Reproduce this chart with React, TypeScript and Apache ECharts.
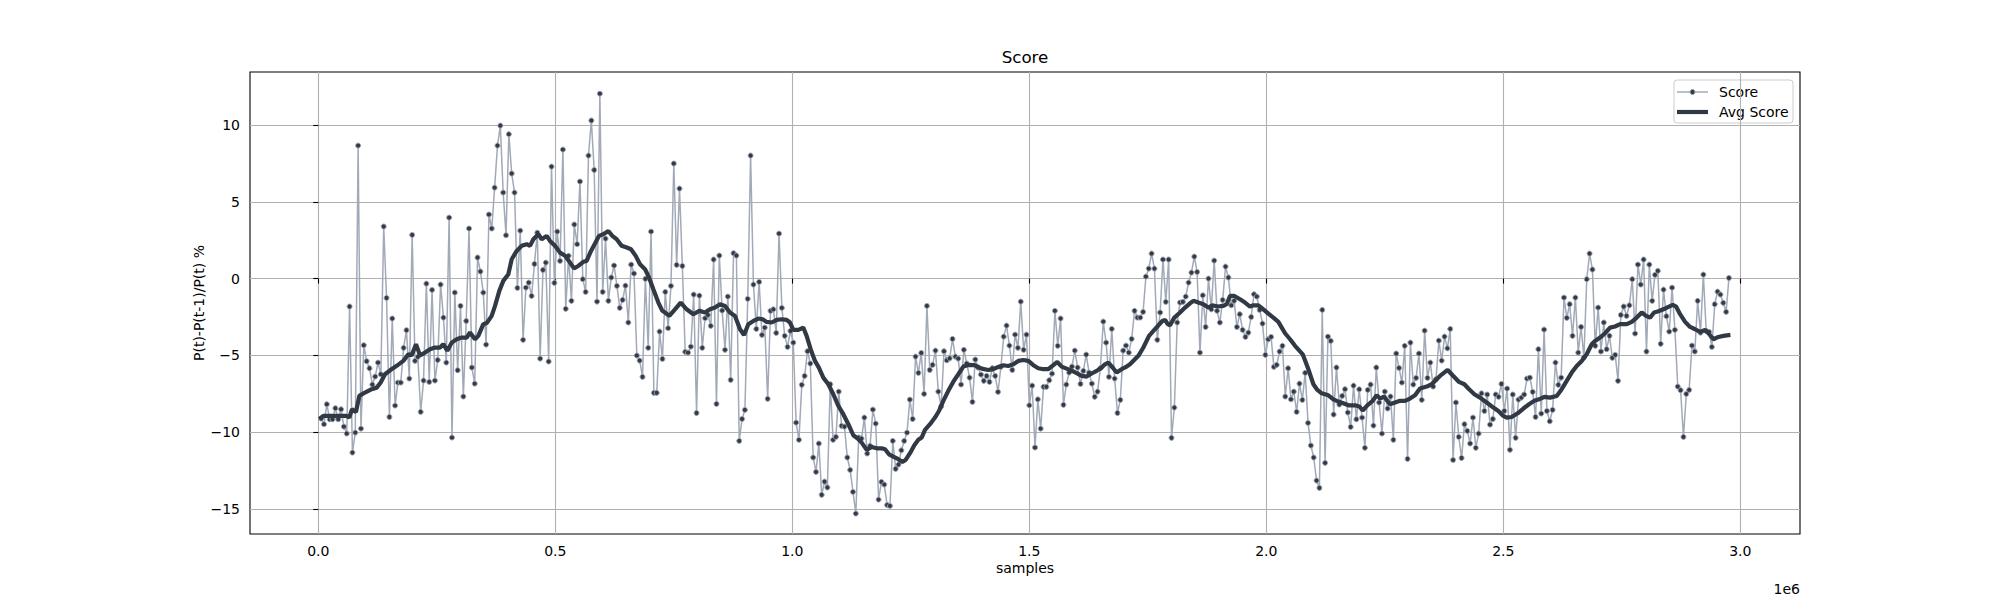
import React, { useEffect, useRef } from "react";
import * as echarts from "echarts";

// one score every SAMPLE_STEP samples, starting at SAMPLE_STEP
const SAMPLE_STEP = 6000;

const scoreValues: number[] = [
  -9.11, -9.48, -8.18, -9.16, -9.16, -8.44, -9.16, -8.51, -9.64, -10.09,
  -1.82, -11.33, -10.03, 8.66, -9.77, -4.34, -5.38, -5.84, -6.9, -6.38,
  -5.47, -6.23, 3.39, -1.26, -9.01, -2.6, -8.27, -6.77, -6.77, -4.51,
  -3.36, -6.51, 2.84, -5.36, -5.1, -8.68, -6.64, -0.33, -6.73, -0.74,
  -6.64, -5.3, -0.39, -2.54, -5.47, 3.97, -10.35, -0.91, -5.97, -1.78,
  -7.68, -2.76, 3.26, -5.79, -6.84, 1.37, 0.46, -0.91, -4.3, 4.17,
  3.26, 5.92, 8.66, 9.96, 5.6, 2.82, 9.4,
  6.84, 5.6, -0.61, 3.12, -3.99, -0.59, -0.26, -1.13, 0.95, 2.99,
  -5.21, 0.56, 1.04, -5.4, 7.29, -0.28, 3.06, 1.15, 8.4, -1.97,
  1.48, -1.45, 3.52, 2.24, 6.32, -0.04, -0.87, 8.01, 10.29, 7.07,
  -1.5, 12.04, -0.87, 2.6, -1.45, 0.07, 0.85, -0.48, -1.91, -1.39,
  -0.46, -2.86, 0.91, 0.33, -5.01, -5.34, -6.4, -0.02, -4.51, 3.06,
  -7.44, -7.44, -3.45, -5.23, -0.87,
  -3.23, -0.48, 7.49, 0.89, 5.86, 0.82, -4.77, -4.82, -4.43, -1.04,
  -8.75, -1.11, -4.51, -2.58, -2.37, -3.08, 1.24, -8.16, 1.5, -2.08,
  -4.64, -1.17, -6.6, 1.65, 1.5, -10.57, -9.14, -8.55, -1.32, 8.01,
  -0.39, -3.28, -0.22, -3.67, -3.19, -7.83, -2.1, -2.0, -3.54, 2.93,
  -1.91, -3.73, -4.45, -3.41, -4.17, -9.38, -10.5, -6.92, -6.34, -4.73,
  -5.53, -11.65, -12.59, -10.74, -14.08,
  -13.22, -13.6, -6.88, -10.5, -10.31, -7.36, -9.59, -9.64, -11.65, -12.46,
  -13.89, -15.3, -10.35, -10.42, -9.05, -11.39, -10.89, -8.53, -9.44, -14.39,
  -13.24, -13.41, -14.74, -14.8, -10.57, -12.39, -12.11, -11.18, -10.57, -10.03,
  -7.88, -9.14, -5.08, -6.14, -4.84, -7.51, -1.78, -5.95, -5.62, -4.69,
  -7.36, -8.33, -4.73, -5.32, -5.19, -3.93, -5.08, -5.21, -6.9, -4.64,
  -5.53, -6.45, -8.03, -5.27,
  -5.79, -6.25, -6.66, -6.34, -6.73, -5.84, -6.34, -7.38, -5.75, -3.78,
  -3.06, -4.36, -5.95, -3.65, -4.51, -1.5, -4.64, -3.65, -8.25, -6.97,
  -11.0, -7.86, -9.77, -7.05, -7.05, -6.62, -6.19, -2.1, -4.38, -2.6,
  -8.22, -6.9, -6.12, -5.73, -4.69, -5.79, -6.86, -6.01, -4.95, -6.12,
  -6.84, -7.7, -7.36, -5.84, -2.8, -4.17, -6.4, -3.28, -6.51, -8.75,
  -7.9, -4.69, -4.36, -4.82, -3.93, -2.1,
  -2.54, -2.54, -2.17, 0.13, 0.65, 1.63, 0.65, -3.99, -2.21, 1.24,
  -1.52, 1.24, -10.37, -8.4, -2.86, -1.56, -1.52, -1.17, -0.26, 0.39,
  1.43, 0.43, -4.82, -1.09, -3.15, 0.0, -2.0, 1.17, -2.1, -2.86,
  -1.39, 0.78, 0.07, -1.74, -1.45, -3.15, -2.32, -3.34, -3.8, -3.52,
  -2.5, -1.02, -1.17, -2.04, -2.93, -4.97, -3.95, -3.8, -5.75, -5.62,
  -4.75, -4.38, -7.68, -5.84,
  -7.86, -7.36, -8.68, -6.84, -7.9, -6.14, -9.4, -10.87, -11.65, -13.15,
  -13.63, -2.04, -12.0, -3.78, -4.06, -8.85, -5.79, -8.2, -7.64, -7.2,
  -8.72, -9.66, -6.97, -9.16, -7.21, -9.05, -11.02, -7.25, -6.9, -9.57,
  -5.79, -8.07, -10.09, -7.36, -8.46, -7.68, -10.5, -4.88, -5.82, -6.77,
  -4.38, -11.74, -4.17, -6.9, -6.47, -4.88, -7.9, -3.39, -6.47, -5.47,
  -7.03, -6.55, -4.04, -5.34,
  -3.78, -4.54, -3.28, -11.81, -8.07, -10.31, -11.68, -9.48, -9.92, -10.74,
  -9.05, -11.02, -10.09, -7.47, -8.62, -7.55, -9.51, -9.14, -7.55, -7.7,
  -6.86, -8.62, -7.16, -11.15, -7.55, -10.37, -7.88, -7.75, -7.55, -6.51,
  -6.45, -7.38, -9.01, -4.6, -8.79, -3.32, -8.62, -9.29, -8.55, -5.47,
  -6.92, -6.45, -1.24, -2.56, -1.67, -3.73, -1.24, -4.82, -3.15, -5.14,
  -0.04, 1.63, 0.59,
  -4.38, -1.89, -4.75, -2.86, -4.6, -3.73, -5.16, -4.97, -6.66, -2.37,
  -1.82, -2.43, -1.74, -0.04, -3.58, 0.91, -0.39, 1.24, -4.75, 0.91,
  -1.45, 0.24, 0.5, -4.25, -0.72, -2.45, -3.45, -0.59, -3.34, -7.03,
  -7.27, -10.31, -7.51, -7.25, -4.36, -4.75, -1.45, -3.52, 0.26, -3.41,
  -3.47, -4.45, -1.67, -0.85, -1.04, -1.58, -2.17, 0.04,
];

// running average, sampled along the curve (samples in millions)
const avgSamplesM: number[] = [
  0.0022, 0.0106, 0.0599, 0.0654, 0.0711, 0.0795, 0.0865, 0.0985, 0.1127, 0.1232,
  0.1316, 0.1407, 0.1513, 0.1654, 0.1793, 0.1899, 0.197, 0.2061, 0.2146, 0.2251,
  0.2357, 0.2462, 0.2568, 0.2637, 0.2722, 0.2814, 0.292, 0.3025, 0.3131, 0.32,
  0.3306, 0.3376, 0.3481, 0.3553, 0.3658, 0.3728, 0.3819, 0.3903,
  0.4009, 0.408, 0.4185, 0.429, 0.4396, 0.4466, 0.4537, 0.4642, 0.4712, 0.4818,
  0.4888, 0.4994, 0.5099, 0.5205, 0.531, 0.5394, 0.5486, 0.5591, 0.5661, 0.5753,
  0.5837, 0.5922, 0.6013, 0.6119, 0.6203, 0.6295, 0.64, 0.6506, 0.6597, 0.6696,
  0.6787, 0.6893, 0.6977, 0.7068, 0.7174, 0.7258, 0.7315,
  0.7405, 0.7525, 0.7645, 0.7771, 0.7912, 0.8038, 0.8158, 0.8263, 0.8369, 0.8474,
  0.858, 0.8685, 0.8791, 0.8897, 0.8981, 0.9072, 0.9178, 0.9284, 0.9375, 0.9459,
  0.9564, 0.967, 0.9775, 0.9881, 0.9951, 1.0022, 1.0127, 1.0232, 1.0302, 1.0387,
  1.0478, 1.056,
  1.0654, 1.076, 1.0865, 1.0971, 1.1076, 1.1182, 1.1287, 1.1379, 1.1463, 1.1569,
  1.1674, 1.178, 1.1885, 1.1956, 1.204, 1.2131, 1.2237, 1.2321, 1.2391, 1.2483,
  1.2574, 1.2658, 1.2729, 1.2799, 1.2905, 1.301, 1.3094, 1.3186, 1.3291, 1.3397,
  1.3502, 1.3608, 1.3713, 1.384,
  1.3995, 1.4135, 1.4241, 1.4346, 1.4452, 1.4557, 1.4663, 1.4768, 1.4874, 1.4979,
  1.5085, 1.519, 1.5296, 1.5401, 1.5507, 1.5591, 1.5682, 1.5788, 1.5893, 1.5999,
  1.6104, 1.621, 1.6315, 1.6421, 1.6526, 1.6596, 1.6667, 1.6758, 1.6842, 1.6948,
  1.7053, 1.7124,
  1.716, 1.7301, 1.7406, 1.7526, 1.7618, 1.7723, 1.7807, 1.7864, 1.792, 1.7969,
  1.806, 1.818, 1.8285, 1.8391, 1.8461, 1.8566, 1.8672, 1.8777, 1.8862, 1.8974,
  1.9094, 1.9164, 1.9234, 1.9326, 1.9445, 1.9551, 1.9656, 1.9727, 1.9832, 1.9938,
  2.0043, 2.0149, 2.0254, 2.0338, 2.0395,
  2.0501, 2.0606, 2.0768, 2.0887, 2.0993, 2.1077, 2.1168, 2.1309, 2.1414, 2.152,
  2.1625, 2.1731, 2.1871, 2.1963, 2.2033, 2.2131, 2.2244, 2.2328, 2.2399, 2.2483,
  2.2609, 2.2715, 2.282, 2.2926, 2.3031, 2.3137, 2.3242, 2.3383, 2.3488, 2.3594,
  2.3664,
  2.3826, 2.3945, 2.4065, 2.4178, 2.4262, 2.4389, 2.4508, 2.4649, 2.479, 2.4895,
  2.5001, 2.5071, 2.5177, 2.5303, 2.5423, 2.5542, 2.5655, 2.5753, 2.5866, 2.5985,
  2.6126, 2.6232, 2.6337, 2.6443, 2.6548, 2.6654, 2.6759, 2.6865, 2.6935,
  2.7041, 2.7146, 2.7252, 2.7357, 2.7463, 2.7604, 2.7709, 2.7815, 2.792, 2.8012,
  2.8096, 2.8181, 2.8272, 2.8378, 2.8483, 2.8575, 2.8645, 2.8729, 2.8835, 2.894,
  2.9046, 2.9151, 2.9257, 2.9327, 2.9432, 2.9538, 2.9643, 2.9791,
];

const avgValues: number[] = [
  -9.15, -8.94, -8.94, -9.05, -8.5, -8.7, -7.64, -7.42, -7.2, -7.1,
  -6.77, -6.23, -5.97, -5.68, -5.36, -4.92, -5.0, -4.27, -5.0, -4.82,
  -4.6, -4.49, -4.49, -4.27, -4.7, -4.17, -3.95, -3.84, -3.84, -3.51,
  -3.95, -3.73, -2.97, -2.9, -2.43, -1.78, -0.8, -0.15,
  0.28, 1.26, 1.8, 2.13, 2.24, 2.13, 2.56, 2.89, 2.56, 2.78,
  2.45, 2.13, 1.69, 1.48, 1.04, 0.67, 0.82, 1.09, 1.15, 1.8,
  2.28, 2.78, 2.89, 3.1, 2.78, 2.56, 2.13, 2.02, 1.91, 1.48,
  0.93, 0.61, 0.07, -0.69, -1.56, -2.1, -2.21,
  -2.43, -2.0, -1.56, -2.0, -2.32, -2.1, -2.21, -2.0, -1.89, -1.67,
  -1.78, -2.21, -2.43, -3.3, -3.67, -2.97, -2.76, -2.6, -2.65, -2.82,
  -2.86, -2.69, -2.65, -2.69, -2.86, -3.34, -3.34, -3.19, -3.73, -4.6,
  -5.36, -5.8,
  -6.45, -6.88, -7.53, -8.29, -8.83, -9.48, -10.2, -10.42, -10.68, -11.15,
  -10.96, -11.05, -11.05, -11.11, -11.44, -11.59, -11.76, -11.94, -11.81, -11.37,
  -10.85, -10.5, -10.35, -9.85, -9.48, -9.05, -8.62, -7.96, -7.31, -6.71,
  -6.23, -5.73, -5.62, -5.64,
  -5.86, -5.95, -5.9, -5.75, -5.64, -5.69, -5.58, -5.36, -5.3, -5.36,
  -5.64, -5.84, -5.9, -5.9, -5.64, -5.43, -5.73, -5.86, -5.99, -6.16,
  -6.34, -6.38, -6.18, -6.01, -5.79, -5.58, -5.47, -5.79, -6.12, -5.9,
  -5.73, -5.58,
  -5.47, -5.03, -4.49, -3.73, -3.41, -3.04, -2.76, -2.69, -2.97, -3.04,
  -2.54, -2.21, -1.89, -1.61, -1.45, -1.56, -1.67, -1.89, -1.74, -1.82,
  -1.78, -1.67, -1.13, -1.13, -1.35, -1.56, -1.82, -1.74, -1.74, -2.0,
  -2.28, -2.54, -2.82, -3.26, -3.56,
  -3.95, -4.38, -4.93, -5.9, -6.88, -7.25, -7.47, -7.6, -7.86, -8.01,
  -8.12, -8.25, -8.25, -8.33, -8.59, -8.25, -7.96, -7.6, -7.81, -7.68,
  -8.18, -8.07, -7.96, -7.96, -7.81, -7.6, -7.16, -7.03, -6.88, -6.55,
  -6.34,
  -5.95, -6.34, -6.73, -6.88, -7.16, -7.53, -7.75, -8.07, -8.4, -8.62,
  -8.94, -9.05, -9.01, -8.77, -8.46, -8.18, -7.96, -7.86, -7.7, -7.75,
  -7.64, -7.2, -6.66, -6.12, -5.69, -5.36, -4.93, -4.28, -4.06,
  -3.84, -3.56, -3.19, -3.12, -2.97, -2.97, -2.82, -2.54, -2.21, -2.43,
  -2.54, -2.21, -2.13, -2.0, -1.84, -1.71, -1.82, -2.32, -2.82, -3.15,
  -3.3, -3.47, -3.34, -3.56, -3.95, -3.8, -3.73, -3.67,
];

const xTicks: number[] = [0, 500000, 1000000, 1500000, 2000000, 2500000, 3000000];
const yTicks: number[] = [-15, -10, -5, 0, 5, 10];

const FONT = "DejaVu Sans";
const SCORE_LINE = "#a2a9b7";
const SCORE_MARKER = "#333a45";
const MARKER_EDGE = "#9aa2b0";
const AVG_LINE = "#313944";

const minusSign = (s: string) => s.replace("-", "\u2212");

const App: React.FC = () => {
  const chartRef = useRef<HTMLDivElement | null>(null);

  useEffect(() => {
    if (!chartRef.current) return;
    const chart = echarts.init(chartRef.current, undefined, { renderer: "svg" });

    const scoreData = scoreValues.map((v, i) => [(i + 1) * SAMPLE_STEP, v]);
    const avgData = avgSamplesM.map((m, i) => [m * 1e6, avgValues[i]]);

    const text = (t: string, x: number, y: number, size: number, align = "center", rotation = 0) => ({
      type: "text",
      x,
      y,
      rotation,
      style: {
        text: t,
        fill: "#000",
        fontSize: size,
        fontFamily: FONT,
        align,
        textAlign: align,
        verticalAlign: "middle",
        textVerticalAlign: "middle",
      },
    });

    chart.setOption({
      animation: false,
      backgroundColor: "#fff",
      grid: {
        left: 250,
        right: 200,
        top: 72,
        bottom: 66,
        show: true,
        borderColor: "#000",
        borderWidth: 1.1,
        backgroundColor: "#fff",
      },
      xAxis: {
        type: "value",
        min: -144100,
        max: 3125900,
        axisLine: { show: false },
        axisTick: {
          show: true,
          length: 5,
          customValues: xTicks,
          lineStyle: { color: "#000", width: 1.1 },
        },
        axisLabel: {
          customValues: xTicks,
          margin: 10,
          color: "#000",
          fontFamily: FONT,
          fontSize: 14,
          formatter: (v: number) => (v / 1e6).toFixed(1),
        },
        splitLine: { show: true, lineStyle: { color: "#b0b0b0", width: 1.1 } },
      },
      yAxis: {
        type: "value",
        min: -16.63,
        max: 13.45,
        axisLine: { show: false },
        axisTick: {
          show: true,
          length: 5,
          customValues: yTicks,
          lineStyle: { color: "#000", width: 1.1 },
        },
        axisLabel: {
          customValues: yTicks,
          margin: 10,
          color: "#000",
          fontFamily: FONT,
          fontSize: 14,
          formatter: (v: number) => minusSign(String(v)),
        },
        splitLine: { show: true, lineStyle: { color: "#b0b0b0", width: 1.1 } },
      },
      series: [
        {
          name: "Score",
          type: "line",
          data: scoreData,
          silent: true,
          z: 2,
          symbol: "circle",
          symbolSize: 5,
          showSymbol: true,
          showAllSymbol: true,
          lineStyle: { color: SCORE_LINE, width: 1.5 },
          itemStyle: { color: SCORE_MARKER, borderColor: MARKER_EDGE, borderWidth: 1 },
          emphasis: { disabled: true },
        },
        {
          name: "Avg Score",
          type: "line",
          data: avgData,
          silent: true,
          z: 3,
          symbol: "none",
          lineStyle: { color: AVG_LINE, width: 4.2 },
          emphasis: { disabled: true },
        },
      ],
      graphic: [
        text("Score", 1025, 57, 16.7),
        text("samples", 1025, 568, 14),
        text("1e6", 1800, 589, 14, "right"),
        text("P(t)-P(t-1)/P(t) %", 199, 303, 14, "center", Math.PI / 2),
        {
          type: "group",
          z: 100,
          children: [
            {
              type: "rect",
              shape: { x: 1674, y: 80, width: 119, height: 43, r: 3 },
              style: { fill: "rgba(255,255,255,0.8)", stroke: "#cccccc", lineWidth: 1 },
            },
            {
              type: "line",
              shape: { x1: 1677, y1: 92, x2: 1708, y2: 92 },
              style: { stroke: SCORE_LINE, lineWidth: 1.5 },
            },
            {
              type: "circle",
              shape: { cx: 1692.5, cy: 92, r: 2.5 },
              style: { fill: SCORE_MARKER, stroke: MARKER_EDGE, lineWidth: 1 },
            },
            {
              type: "line",
              shape: { x1: 1677, y1: 112, x2: 1708, y2: 112 },
              style: { stroke: AVG_LINE, lineWidth: 4.2 },
            },
            text("Score", 1719, 92, 14, "left"),
            text("Avg Score", 1719, 112, 14, "left"),
          ],
        },
      ],
    });

    return () => {
      chart.dispose();
    };
  }, []);

  return (
    <div
      ref={chartRef}
      style={{ position: "absolute", left: 0, top: 0, width: "2000px", height: "600px" }}
    />
  );
};

export default App;
